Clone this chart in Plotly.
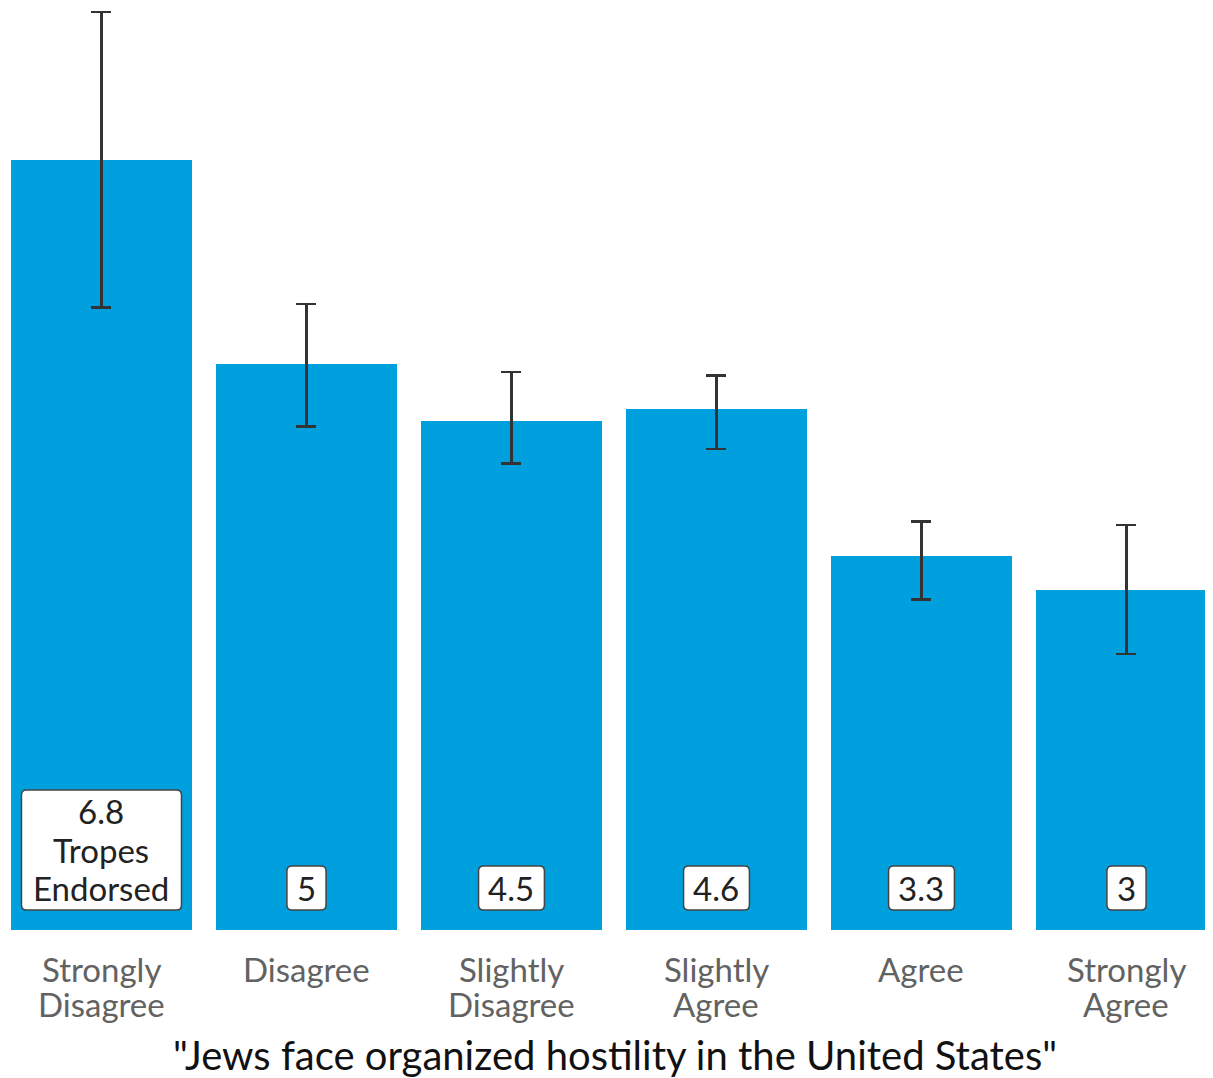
import plotly.graph_objects as go

categories = ["Strongly<br>Disagree", "Disagree", "Slightly<br>Disagree",
              "Slightly<br>Agree", "Agree", "Strongly<br>Agree"]
means = [6.8, 5.0, 4.5, 4.6, 3.3, 3.0]
err_up = [1.31, 0.53, 0.43, 0.30, 0.31, 0.58]
err_down = [1.30, 0.55, 0.38, 0.35, 0.38, 0.56]
first_label_suffix = ["Tropes", "Endorsed"]
x_title = '"Jews face organized hostility in the United States"'

xs = list(range(len(categories)))
bar_color = "#00A0DF"
font_family = "Lato, 'Open Sans', sans-serif"
label_size = 33


def text_width(s, size):
    w = 0.0
    for ch in s:
        w += 0.23 * size if ch == "." else 0.58 * size
    return w


def rounded_rect(x0, x1, y0, y1, r=5):
    return (f"M {x0 + r},{y0} L {x1 - r},{y0} Q {x1},{y0} {x1},{y0 + r} "
            f"L {x1},{y1 - r} Q {x1},{y1} {x1 - r},{y1} L {x0 + r},{y1} "
            f"Q {x0},{y1} {x0},{y1 - r} L {x0},{y0 + r} Q {x0},{y0} {x0 + r},{y0} Z")


fig = go.Figure()
fig.add_trace(go.Bar(
    x=xs, y=means, width=0.883,
    marker=dict(color=bar_color, line=dict(width=0)),
    error_y=dict(type="data", symmetric=False, array=err_up, arrayminus=err_down,
                 color="#333333", thickness=2.5, width=10),
    hoverinfo="skip",
))

for i, v in enumerate(means):
    lines = [f"{v:g}"]
    if i == 0:
        lines += first_label_suffix
    n = len(lines)
    if n == 1:
        w = text_width(lines[0], label_size) + 20
        top = 64
    else:
        w = 160
        top = 140
    fig.add_shape(
        type="path", xref="x", yref="y", xsizemode="pixel", ysizemode="pixel",
        xanchor=xs[i], yanchor=0,
        path=rounded_rect(-w / 2, w / 2, 20, top),
        fillcolor="white", line=dict(color="#444444", width=1.5), layer="above",
    )
    for k, line in enumerate(lines):
        shift = 42 + 38.5 * (n - 1 - k)
        fig.add_annotation(
            x=xs[i], y=0, xref="x", yref="y", text=line, showarrow=False,
            yanchor="middle", yshift=shift,
            font=dict(family=font_family, size=label_size, color="#222222"),
        )

for i, cat in enumerate(categories):
    for k, part in enumerate(cat.split("<br>")):
        fig.add_annotation(
            x=xs[i], y=0, xref="x", yref="y", text=part, showarrow=False,
            yanchor="middle", yshift=-(39 + 35 * k),
            font=dict(family=font_family, size=label_size, color="#626262"),
        )

fig.add_annotation(
    x=0.504, y=0, xref="paper", yref="y", text=x_title, showarrow=False,
    xanchor="center", yanchor="middle", yshift=-125,
    font=dict(family=font_family, size=40, color="#111111"),
)

fig.update_layout(
    width=1205, height=1070,
    margin=dict(l=0, r=0, t=0, b=148),
    plot_bgcolor="white", paper_bgcolor="white",
    showlegend=False, bargap=0,
    xaxis=dict(range=[-0.456, 5.422], showticklabels=False,
               showgrid=False, zeroline=False, showline=False, ticks=""),
    yaxis=dict(range=[0, 8.145], visible=False, showgrid=False, zeroline=False),
)

fig.write_html("out.html")
